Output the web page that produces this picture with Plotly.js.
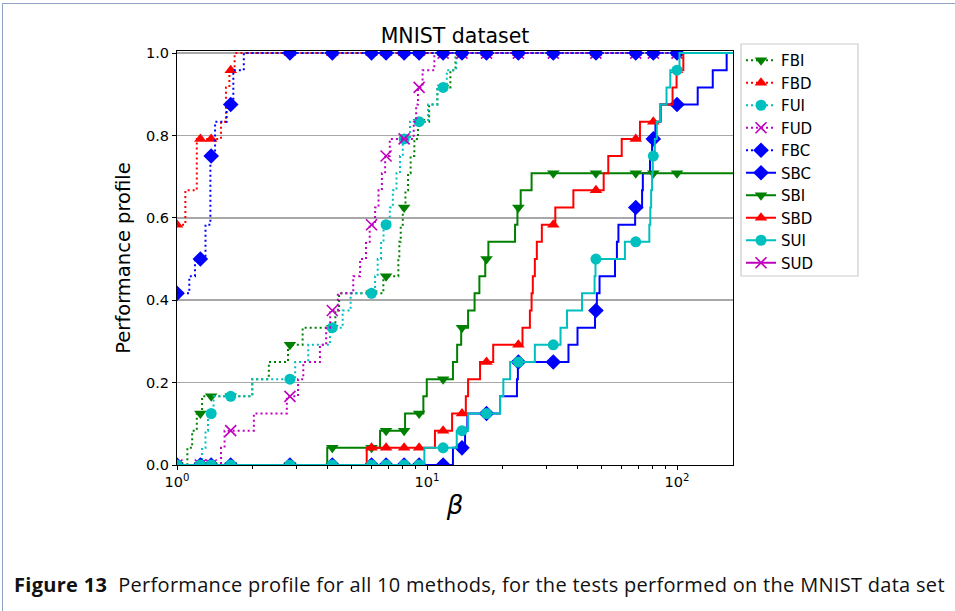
<!DOCTYPE html>
<html>
<head>
<meta charset="utf-8">
<script src="https://cdn.plot.ly/plotly-3.0.1.min.js"></script>
<style>
  html, body { margin: 0; padding: 0; background: #fff; }
  #wrap { position: relative; width: 955px; height: 611px; overflow: hidden; }
  #frame { position: absolute; left: 2px; top: 3px; width: 960px; height: 620px;
           border-left: 1px solid #8fa3c4; border-top: 1px solid #8fa3c4; }
  #chart { position: absolute; left: 0; top: 0; width: 955px; height: 611px; }
  #caption { position: absolute; left: 14px; top: 571px; font-family: 'Open Sans', sans-serif;
             font-size: 20px; color: #111; white-space: nowrap; letter-spacing: 0.3px; }
</style>
</head>
<body>
<div id="wrap">
  <div id="frame"></div>
  <div id="chart"></div>
  <div id="caption"><b>Figure 13</b>&nbsp; Performance profile for all 10 methods, for the tests performed on the MNIST data set</div>
</div>
<script>
// ---- data (performance ratio breakpoints beta, number of problems solved out of nProblems) ----
const nProblems = 24;
const markerBeta = [1, 1.24, 1.37, 1.64, 2.83, 4.18, 6.0, 6.86, 8.1, 9.3, 11.6, 13.8, 17.3, 23.2, 32, 47.4, 68.4, 80.4, 100];

const fbiBeta = [1, 1.1, 1.15, 1.2, 1.26, 2.0, 2.33, 2.78, 3.18, 4.3, 4.45, 6.69, 7.68, 7.75, 7.85, 8.0, 8.2, 8.4, 8.6, 8.9, 9.2, 10.2, 11.0, 12.4, 13.0];
const fbiSolved = [0, 1, 2, 3, 4, 5, 6, 7, 8, 9, 10, 11, 12, 13, 14, 15, 16, 17, 18, 19, 20, 21, 22, 23, 24];

const fbdBeta = [1, 1.08, 1.2, 1.5, 1.57, 1.62, 1.7];
const fbdSolved = [14, 16, 19, 20, 22, 23, 24];

const fuiBeta = [1, 1.26, 1.3, 1.33, 1.4, 2.0, 2.97, 3.35, 4.09, 4.6, 4.95, 6.2, 6.35, 6.55, 6.7, 7.1, 7.3, 7.55, 7.8, 8.0, 8.55, 10.1, 11.0, 12.0, 13.1];
const fuiSolved = [0, 1, 2, 3, 4, 5, 6, 7, 8, 9, 10, 11, 12, 13, 14, 15, 16, 17, 18, 19, 20, 21, 22, 23, 24];

const fudBeta = [1, 1.5, 1.55, 2.03, 2.75, 3.05, 3.2, 3.73, 3.95, 4.1, 4.4, 5.07, 5.4, 5.7, 5.9, 6.2, 6.4, 6.6, 6.8, 7.1, 8.85, 9.05, 9.2, 9.6, 10.7];
const fudSolved = [0, 1, 2, 3, 4, 5, 6, 7, 8, 9, 10, 11, 12, 13, 14, 15, 16, 17, 18, 19, 20, 21, 22, 23, 24];

const fbcBeta = [1, 1.12, 1.18, 1.3, 1.36, 1.42, 1.58, 1.68, 1.85];
const fbcSolved = [10, 11, 12, 14, 18, 20, 21, 23, 24];

const sbcBeta = [1, 12.7, 14.2, 14.5, 19.6, 22.9, 23.1, 36.8, 40.0, 47.0, 47.8, 49.0, 56.5, 57.5, 58.3, 68.0, 72.5, 73.0, 78, 79.5, 82, 86, 121, 139, 158];
const sbcSolved = [0, 1, 2, 3, 4, 5, 6, 7, 8, 9, 10, 11, 12, 13, 14, 15, 16, 17, 18, 19, 20, 21, 22, 23, 24];

const sbiBeta = [1, 3.99, 6.49, 8.17, 9.67, 9.98, 12.7, 13.2, 13.7, 14.6, 15.5, 16.2, 17.1, 17.6, 22.5, 23.0, 23.7, 26.2];
const sbiSolved = [0, 1, 2, 3, 4, 5, 6, 7, 8, 9, 10, 11, 12, 13, 14, 15, 16, 17];

const sbdBeta = [1, 5.74, 10.76, 12.6, 14.3, 14.6, 16.3, 18.4, 24.1, 25.8, 26.2, 26.5, 27.0, 27.5, 28.8, 32.6, 38.5, 50.9, 53.1, 60.1, 71.1, 85.5, 96, 99.6, 106];
const sbdSolved = [0, 1, 2, 3, 4, 5, 6, 7, 8, 9, 10, 11, 12, 13, 14, 15, 16, 17, 18, 19, 20, 21, 22, 23, 24];

const suiBeta = [1, 9.76, 13.15, 14.6, 19.6, 20.2, 21.5, 27.0, 34.2, 36.3, 41.7, 46.8, 47.2, 61.9, 77.5, 78.2, 78.8, 79.5, 80.0, 81.5, 83, 85.5, 90.8, 94, 102.3];
const suiSolved = [0, 1, 2, 3, 4, 5, 6, 7, 8, 9, 10, 11, 12, 13, 14, 15, 16, 17, 18, 19, 20, 21, 22, 23, 24];

const sudBeta = [];
const sudSolved = [];

const xTickVals = [1, 10, 100];
const xTickText = ['10<sup>0</sup>', '10<sup>1</sup>', '10<sup>2</sup>'];
const xMinorVals = [2, 3, 4, 5, 6, 7, 8, 9, 20, 30, 40, 50, 60, 70, 80, 90];
const yTickVals = [0, 0.2, 0.4, 0.6, 0.8, 1.0];

// ---- build traces ----
const X_LOG_MAX = 2.224;
const X_END = Math.pow(10, X_LOG_MAX + 0.05);

function stepValue(xs, ks, x) {
  let v = null;
  for (let i = 0; i < xs.length; i++) { if (xs[i] <= x + 1e-9) v = ks[i]; }
  return v;
}

function makeTrace(name, xs, ks, color, symbol, dotted) {
  const isX = symbol.indexOf('x') === 0;
  if (xs.length === 0) {
    return { name: name, x: [null], y: [null], type: 'scatter', mode: 'lines+markers',
      line: { color: color, width: 2, dash: dotted ? '2px,3px' : 'solid' },
      marker: { symbol: symbol, size: 11, color: color, line: { color: color, width: 1.6 } } };
  }
  const all = Array.from(new Set(xs.concat(markerBeta))).filter(v => v >= xs[0]).sort((a, b) => a - b);
  const px = [], py = [], mc = [];
  all.forEach(b => {
    px.push(b);
    py.push(stepValue(xs, ks, b) / nProblems);
    mc.push(markerBeta.indexOf(b) >= 0 ? color : 'rgba(0,0,0,0)');
  });
  px.push(X_END); py.push(ks[ks.length - 1] / nProblems); mc.push('rgba(0,0,0,0)');
  return {
    name: name, x: px, y: py, type: 'scatter', mode: 'lines+markers',
    line: { color: color, width: 2, shape: 'hv', dash: dotted ? '2px,3px' : 'solid' },
    marker: { symbol: symbol, size: symbol === 'diamond' ? 12 : 11, color: mc,
              line: { color: isX ? mc : 'rgba(0,0,0,0)', width: isX ? 1.6 : 0 } },
    hoverinfo: 'x+y+name'
  };
}

const G = '#008000', R = '#ff0000', C = '#00bfbf', M = '#bf00bf', B = '#0000ff';
const data = [
  makeTrace('FBI', fbiBeta, fbiSolved, G, 'triangle-down', true),
  makeTrace('FBD', fbdBeta, fbdSolved, R, 'triangle-up', true),
  makeTrace('FUI', fuiBeta, fuiSolved, C, 'circle', true),
  makeTrace('FUD', fudBeta, fudSolved, M, 'x-thin', true),
  makeTrace('FBC', fbcBeta, fbcSolved, B, 'diamond', true),
  makeTrace('SBC', sbcBeta, sbcSolved, B, 'diamond', false),
  makeTrace('SBI', sbiBeta, sbiSolved, G, 'triangle-down', false),
  makeTrace('SBD', sbdBeta, sbdSolved, R, 'triangle-up', false),
  makeTrace('SUI', suiBeta, suiSolved, C, 'circle', false),
  makeTrace('SUD', sudBeta, sudSolved, M, 'x-thin', false)
];

// legend frame (pixel box converted to paper coordinates)
const PL = 177, PW = 556, PB = 465, PH = 414;
const legBox = { x0: (741 - PL) / PW, x1: (858 - PL) / PW, y0: (PB - 276) / PH, y1: (PB - 44) / PH };

const layout = {
  width: 955, height: 611,
  margin: { l: 177, r: 222, t: 51, b: 146 },
  paper_bgcolor: 'rgba(0,0,0,0)', plot_bgcolor: '#fff',
  font: { family: 'DejaVu Sans', size: 14, color: '#000' },
  title: { text: 'MNIST dataset', font: { family: 'DejaVu Sans', size: 20.5, color: '#000' },
           x: 0.5, xref: 'paper', y: 1 - 36 / 611, yref: 'container', yanchor: 'middle' },
  xaxis: {
    type: 'log', range: [0, X_LOG_MAX], tickvals: xTickVals, ticktext: xTickText,
    ticks: 'outside', ticklen: 4, tickwidth: 1, tickcolor: '#000',
    showgrid: false, zeroline: false, showline: true, mirror: true, linecolor: '#000', linewidth: 1,
    tickfont: { family: 'DejaVu Sans', size: 14.5, color: '#000' },
    minor: { tickvals: xMinorVals, ticks: 'outside', ticklen: 2.5, tickwidth: 1, tickcolor: '#000', showgrid: false },
    title: { text: 'β', font: { family: 'DejaVu Sans', size: 26, color: '#000', style: 'italic' }, standoff: 6 }
  },
  yaxis: {
    range: [0, 1.005], tickvals: yTickVals, tickformat: '.1f',
    ticks: 'outside', ticklen: 4, tickwidth: 1, tickcolor: '#000',
    showgrid: true, gridcolor: '#a8a8a8', gridwidth: 1.5, zeroline: false,
    showline: true, mirror: true, linecolor: '#000', linewidth: 1,
    tickfont: { family: 'DejaVu Sans', size: 14.5, color: '#000' },
    title: { text: 'Performance profile', font: { family: 'DejaVu Sans', size: 19.5, color: '#000' }, standoff: 10 }
  },
  legend: {
    x: legBox.x0, y: legBox.y1, xanchor: 'left', yanchor: 'top',
    bgcolor: 'rgba(0,0,0,0)', borderwidth: 0,
    font: { family: 'DejaVu Sans', size: 15, color: '#000' },
    tracegroupgap: 0, itemwidth: 30
  },
  shapes: [{
    type: 'rect', xref: 'paper', yref: 'paper', layer: 'below',
    x0: legBox.x0, x1: legBox.x1, y0: legBox.y0, y1: legBox.y1,
    line: { color: '#cccccc', width: 1.2 }, fillcolor: 'rgba(255,255,255,0.9)'
  }],
  showlegend: true
};

Plotly.newPlot('chart', data, layout, { displayModeBar: false, staticPlot: true });
</script>
</body>
</html>
